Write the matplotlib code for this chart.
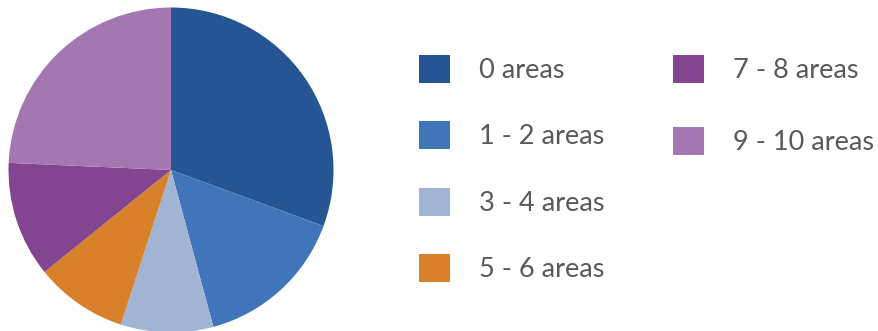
import matplotlib.pyplot as plt
from matplotlib.patches import Patch

# Share of respondents by number of areas
labels = ['0 areas', '1 - 2 areas', '3 - 4 areas', '5 - 6 areas', '7 - 8 areas', '9 - 10 areas']
shares = [30.6, 15.2, 9.2, 9.2, 11.5, 24.3]
colors = ['#255592', '#4175BA', '#A1B4D4', '#D8802A', '#83458F', '#A577B1']

W, H = 879, 331
fig = plt.figure(figsize=(W / 100, H / 100), dpi=100)

# Pie: centre (171, 170) px, radius ~162.5 px
cx, cy, r = 171, 170, 162.5
ax = fig.add_axes([(cx - r) / W, (H - cy - r) / H, 2 * r / W, 2 * r / H])
ax.pie(shares, colors=colors, startangle=90, counterclock=False,
       wedgeprops=dict(linewidth=0))
ax.set_xlim(-1, 1)
ax.set_ylim(-1, 1)
ax.set_aspect('equal')
ax.axis('off')

handles = [Patch(facecolor=c, edgecolor='none') for c in colors]
fs = 19.5
style = dict(loc='upper left', frameon=False, prop={'family': 'Lato', 'size': fs},
             labelcolor='#595959', handlelength=1.15, handleheight=1.2,
             handletextpad=1.05, borderpad=0, borderaxespad=0)

# legend split into two columns: 4 entries, then 2
leg1 = fig.legend(handles[:4], labels[:4], bbox_to_anchor=(419 / W, (H - 55) / H),
                  labelspacing=1.42, **style)
leg2 = fig.legend(handles[4:], labels[4:], bbox_to_anchor=(673 / W, (H - 55) / H),
                  labelspacing=1.62, **style)

fig.savefig('out.png', dpi=100)
